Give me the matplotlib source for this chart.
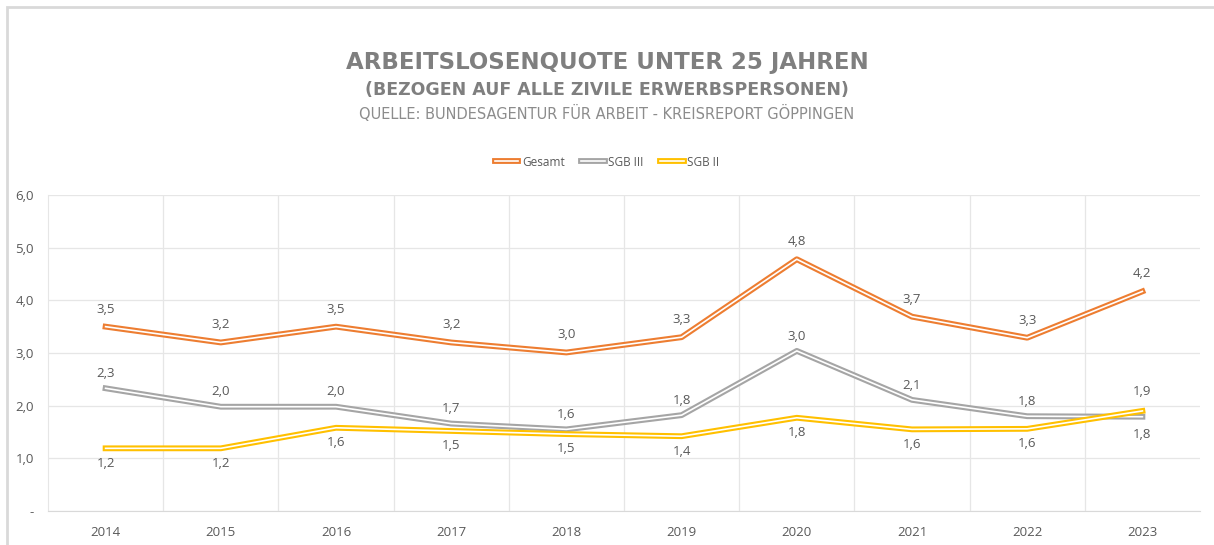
import matplotlib.pyplot as plt
import matplotlib.patheffects as pe
from matplotlib.patches import Rectangle
from matplotlib.ticker import FuncFormatter

# data
years = ['2014', '2015', '2016', '2017', '2018', '2019', '2020', '2021', '2022', '2023']
gesamt = [3.50, 3.20, 3.50, 3.20, 3.01, 3.30, 4.78, 3.69, 3.29, 4.17]
sgb3 = [2.33, 1.98, 1.98, 1.66, 1.55, 1.82, 3.04, 2.11, 1.80, 1.79]
sgb2 = [1.19, 1.19, 1.58, 1.52, 1.46, 1.42, 1.77, 1.55, 1.56, 1.90]

series = [('Gesamt', gesamt, '#ED7D31'),
          ('SGB III', sgb3, '#A5A5A5'),
          ('SGB II', sgb2, '#FFC000')]

plt.rcParams['font.family'] = ['Open Sans', 'DejaVu Sans']

fig = plt.figure(figsize=(12.14, 5.45), dpi=100)
ax = fig.add_axes([48/1214, 1-511/545, 1152/1214, 316/545])

x = list(range(len(years)))
for name, vals, col in series:
	ax.plot(x, vals, color='white', lw=1.2, label=name, zorder=3,
	        path_effects=[pe.Stroke(linewidth=4.2, foreground=col), pe.Normal()])

def fmt(v):
	return ('%.1f' % v).replace('.', ',')

lab_col = '#595959'
for i in x:
	ax.annotate(fmt(gesamt[i]), (i, gesamt[i]), xytext=(0, 8), textcoords='offset points',
	            ha='center', va='bottom', fontsize=9.5, color=lab_col)
	# last point: labels swapped (SGB II above, SGB III below)
	last = (i == len(years) - 1)
	ax.annotate(fmt(sgb3[i]), (i, sgb3[i]), xytext=(0, -8 if last else 6), textcoords='offset points',
	            ha='center', va='top' if last else 'bottom', fontsize=9.5, color=lab_col)
	ax.annotate(fmt(sgb2[i]), (i, sgb2[i]), xytext=(0, 9 if last else -6), textcoords='offset points',
	            ha='center', va='bottom' if last else 'top', fontsize=9.5, color=lab_col)

ax.set_xlim(-0.5, len(years) - 0.5)
ax.set_ylim(0, 6)
ax.set_xticks(x)
ax.set_xticklabels(years)
ax.set_xticks([i + 0.5 for i in x[:-1]], minor=True)
ax.set_yticks([0, 1, 2, 3, 4, 5, 6])
ax.yaxis.set_major_formatter(FuncFormatter(lambda v, p: '-' if v == 0 else fmt(v)))
ax.tick_params(axis='both', length=0, labelsize=9.5, colors=lab_col)
ax.tick_params(axis='x', which='minor', length=0)
ax.tick_params(axis='x', pad=11)
ax.tick_params(axis='y', pad=10)
ax.grid(axis='y', color='#e6e6e6', lw=0.9)
ax.grid(axis='x', which='minor', color='#e6e6e6', lw=0.9)
for s in ['top', 'right']:
	ax.spines[s].set_visible(False)
ax.spines['left'].set_color('#e6e6e6')
ax.spines['bottom'].set_color('#d9d9d9')
ax.set_axisbelow(True)

leg = ax.legend(loc='center', bbox_to_anchor=(0.5, 1-162/545), bbox_transform=fig.transFigure,
                ncol=3, frameon=False, fontsize=8.5, handlelength=2.0, columnspacing=1.4,
                handletextpad=0.3, labelcolor=lab_col)

title_font = ['DejaVu Sans']
fig.text(0.5, 1-62/545, 'ARBEITSLOSENQUOTE UNTER 25 JAHREN', ha='center', va='center',
         fontsize=16.5, fontweight='bold', color='#7f7f7f', family=title_font)
fig.text(0.5, 1-90/545, '(BEZOGEN AUF ALLE ZIVILE ERWERBSPERSONEN)', ha='center', va='center',
         fontsize=12.5, fontweight='bold', color='#7f7f7f', family=title_font)
fig.text(0.5, 1-113/545, 'QUELLE: BUNDESAGENTUR FÜR ARBEIT - KREISREPORT GÖPPINGEN', ha='center', va='center',
         fontsize=10.5, color='#8c8c8c', family=title_font)

# light frame around the chart area
fig.patches.append(Rectangle((7/1214, -0.1), 1.2, 1-7/545+0.1, transform=fig.transFigure,
                             fill=False, edgecolor='#d9d9d9', lw=2))

plt.savefig('out.png', dpi=100)
